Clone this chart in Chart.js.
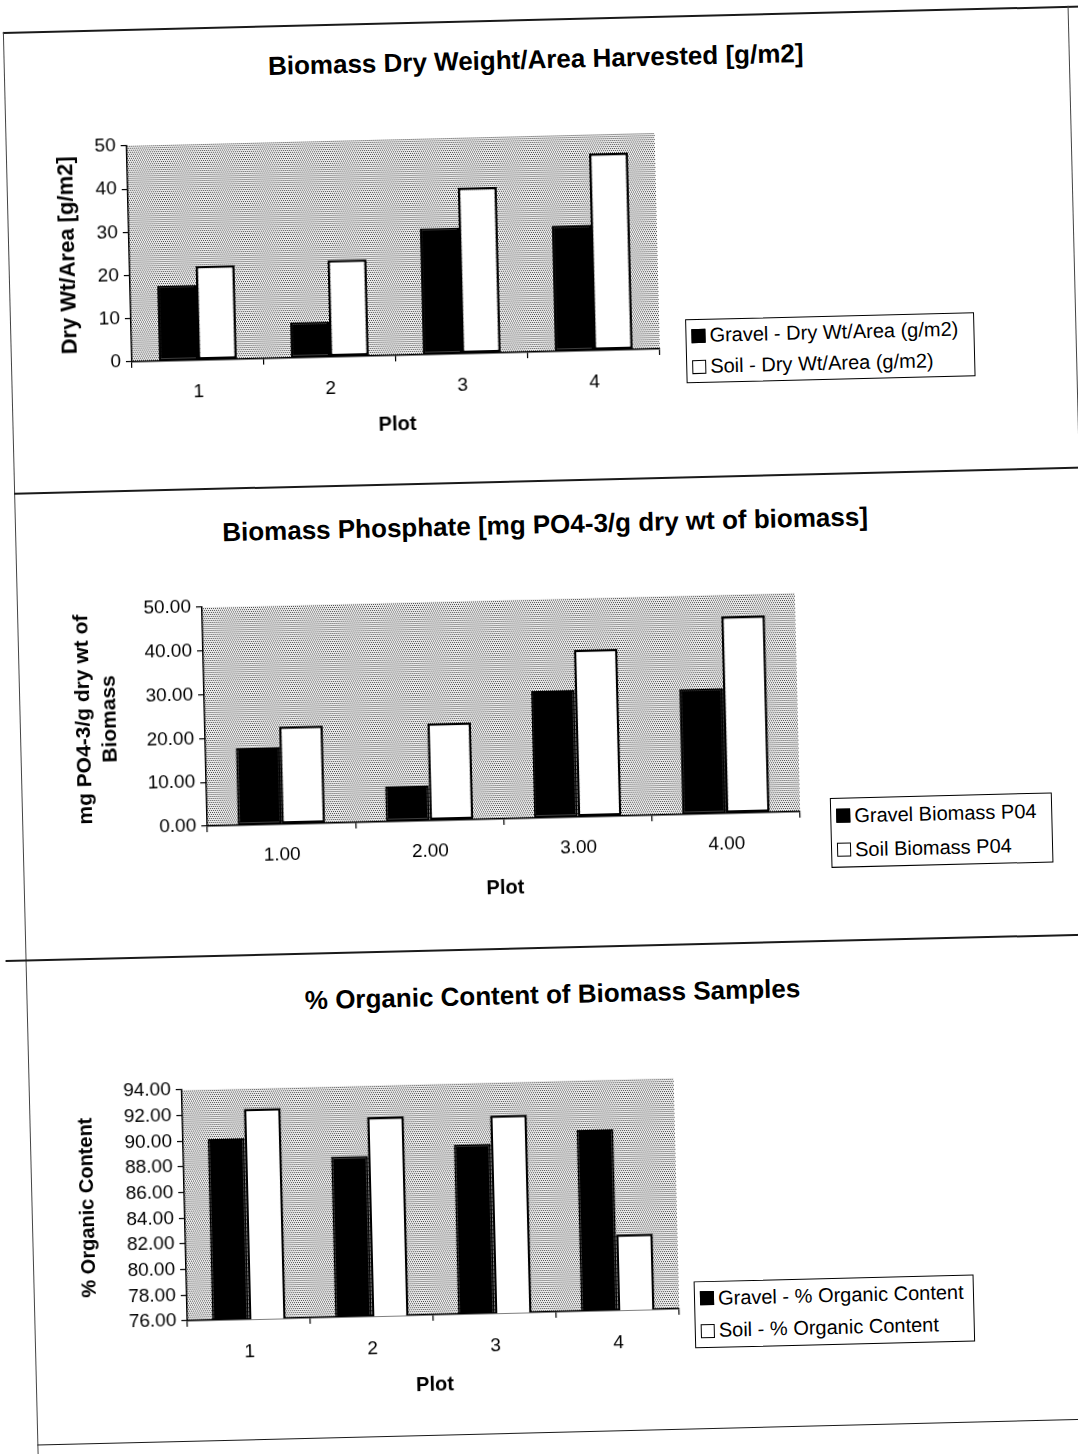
<!DOCTYPE html>
<html>
<head>
<meta charset="utf-8">
<script src="https://cdn.jsdelivr.net/npm/chart.js@4.4.1/dist/chart.umd.min.js"></script>
<style>
  html, body { margin: 0; padding: 0; background: #fff; width: 1078px; height: 1454px; overflow: hidden; }
  #page { position: absolute; left: 0; top: 0; width: 1078px; height: 1454px;
          transform: rotate(-1.4deg); transform-origin: 539px 727px;
          font-family: "Liberation Sans", Arial, sans-serif; color: #000; }
  .hline { position: absolute; height: 0; border-top: 2px solid #1a1a1a; }
  .vline { position: absolute; width: 0; border-left: 1px solid #444; }
  .title { position: absolute; transform: translate(-50%, -50%); font-weight: bold; font-size: 26px; white-space: nowrap; }
  canvas { position: absolute; }
  .legend { position: absolute; border: 1px solid #000; background: #fff; box-sizing: border-box;
            padding: 0 5px; font-size: 20px; display: flex; flex-direction: column; justify-content: space-around; }
  .legend .row { display: flex; align-items: center; white-space: nowrap; }
  .legend .sw { width: 12px; height: 12px; border: 1.5px solid #000; margin-right: 4px; }
</style>
</head>
<body>
<div id="page">
  <div class="hline" style="left:20px;top:19px;width:1080px"></div>
  <div class="vline" style="left:20px;top:19px;height:1450px"></div>
  <div class="vline" style="left:1085px;top:19px;height:461px"></div>
  <div class="hline" style="left:20px;top:480px;width:1080px"></div>
  <div class="hline" style="left:0px;top:947px;width:1100px"></div>
  <div class="hline" style="left:20px;top:1432px;width:1080px;border-top-width:1px"></div>

  <div class="title" id="t1" style="left:552px;top:60px"></div>
  <div class="title" id="t2" style="left:550px;top:525px"></div>
  <div class="title" id="t3" style="left:546px;top:995px"></div>

  <canvas id="c1" width="660" height="330" style="left:20px;top:110px"></canvas>
  <canvas id="c2" width="800" height="345" style="left:20px;top:560px"></canvas>
  <canvas id="c3" width="660" height="360" style="left:20px;top:1040px"></canvas>

  <div class="legend" id="l1" style="left:695px;top:323px;width:289px;height:64px"></div>
  <div class="legend" id="l2" style="left:828px;top:805px;width:222px;height:70px"></div>
  <div class="legend" id="l3" style="left:680px;top:1285px;width:280px;height:67px"></div>
</div>

<script>
/* ─── DATA ─── */
const plots = ['1', '2', '3', '4'];
const plotsDecimal = ['1.00', '2.00', '3.00', '4.00'];

const gravelDryWt = [17.4, 8.2, 29.2, 29.1];
const soilDryWt = [21.8, 22.4, 38.4, 45.6];

const gravelPO4 = [17.6, 8.0, 29.0, 28.6];
const soilPO4 = [22.3, 22.2, 38.2, 45.0];

const gravelOrganic = [90.1, 88.5, 89.2, 90.1];
const soilOrganic = [92.4, 91.5, 91.4, 81.9];

const titles = [
  'Biomass Dry Weight/Area Harvested [g/m2]',
  'Biomass Phosphate [mg PO4-3/g dry wt of biomass]',
  '% Organic Content of Biomass Samples'
];
const legendNames = [
  ['Gravel - Dry Wt/Area (g/m2)', 'Soil - Dry Wt/Area (g/m2)'],
  ['Gravel Biomass P04', 'Soil Biomass P04'],
  ['Gravel - % Organic Content', 'Soil - % Organic Content']
];

Chart.defaults.font.family = '"Liberation Sans", Arial, sans-serif';
Chart.defaults.color = '#000';

/* ─── STIPPLED PLOT AREA ─── */
function makePattern() {
  const c = document.createElement('canvas');
  c.width = 4; c.height = 4;
  const g = c.getContext('2d');
  g.fillStyle = '#ececec'; g.fillRect(0, 0, 4, 4);
  g.fillStyle = '#4a4a4a';
  g.fillRect(0, 0, 1, 1); g.fillRect(2, 0, 1, 1); g.fillRect(1, 2, 1, 1); g.fillRect(3, 2, 1, 1);
  return g.createPattern(c, 'repeat');
}
const dotPattern = makePattern();

const shadePlot = {
  id: 'shadePlot',
  beforeDraw(chart) {
    const a = chart.chartArea, ctx = chart.ctx;
    ctx.save();
    ctx.fillStyle = dotPattern;
    ctx.fillRect(a.left, a.top, a.right - a.left, a.bottom - a.top);
    ctx.restore();
  }
};

/* ─── CHART BUILDER ─── */
function buildChart(id, o) {
  const tickGrid = { display: true, drawOnChartArea: false, color: '#000', lineWidth: 1.2, tickLength: 6 };
  return new Chart(document.getElementById(id).getContext('2d'), {
    type: 'bar',
    data: {
      labels: o.labels,
      datasets: [
        { label: o.names[0], data: o.gravel, backgroundColor: '#000', borderColor: '#000', borderWidth: 2, borderSkipped: false },
        { label: o.names[1], data: o.soil, backgroundColor: '#fff', borderColor: '#000', borderWidth: 2.5, borderSkipped: false }
      ]
    },
    options: {
      responsive: false, animation: false,
      categoryPercentage: o.catPct, barPercentage: 1,
      layout: { padding: { top: o.padTop, right: o.padRight, left: 0, bottom: 0 } },
      plugins: { legend: { display: false }, tooltip: { enabled: false } },
      scales: {
        x: {
          grid: tickGrid, border: { color: '#000', width: 1.5 },
          ticks: { font: { size: 19 }, padding: o.xPad, maxRotation: 0 },
          title: { display: true, text: 'Plot', font: { size: 20, weight: 'bold' }, padding: { top: 0, bottom: o.xTitlePad } },
          afterFit(s) { s.height = o.xH; }
        },
        y: {
          min: o.min, max: o.max,
          grid: tickGrid, border: { color: '#000', width: 1.5 },
          ticks: { stepSize: o.step, autoSkip: false, font: { size: 19 }, padding: 5, callback: o.fmt },
          title: { display: true, text: o.yTitle, font: { size: o.yTitleSize, weight: 'bold' }, padding: { top: o.yTitlePad, bottom: 0 } },
          afterFit(s) { s.width = o.yW; }
        }
      }
    },
    plugins: [shadePlot]
  });
}

function fillLegend(id, names) {
  const el = document.getElementById(id);
  el.innerHTML = names.map((n, i) =>
    `<div class="row"><span class="sw" style="background:${i === 0 ? '#000' : '#fff'}"></span>${n}</div>`).join('');
}

titles.forEach((t, i) => { document.getElementById('t' + (i + 1)).textContent = t; });
legendNames.forEach((n, i) => fillLegend('l' + (i + 1), n));

buildChart('c1', {
  labels: plots, gravel: gravelDryWt, soil: soilDryWt, names: legendNames[0],
  min: 0, max: 50, step: 10, fmt: v => v, yTitle: 'Dry Wt/Area [g/m2]', yTitleSize: 22,
  catPct: 0.59, padTop: 26, padRight: 11, yW: 121, xH: 88, xPad: 14, xTitlePad: 7, yTitlePad: 47
});

buildChart('c2', {
  labels: plotsDecimal, gravel: gravelPO4, soil: soilPO4, names: legendNames[1],
  min: 0, max: 50, step: 10, fmt: v => v.toFixed(2), yTitle: ['mg PO4-3/g dry wt of', 'Biomass'], yTitleSize: 21,
  catPct: 0.59, padTop: 39, padRight: 22, yW: 185, xH: 87, xPad: 13, xTitlePad: 6, yTitlePad: 52
});

buildChart('c3', {
  labels: plots, gravel: gravelOrganic, soil: soilOrganic, names: legendNames[2],
  min: 76, max: 94, step: 2, fmt: v => v.toFixed(2), yTitle: '% Organic Content', yTitleSize: 20,
  catPct: 0.6, padTop: 41, padRight: 15, yW: 153, xH: 88, xPad: 15, xTitlePad: 6, yTitlePad: 44
});
</script>
</body>
</html>
